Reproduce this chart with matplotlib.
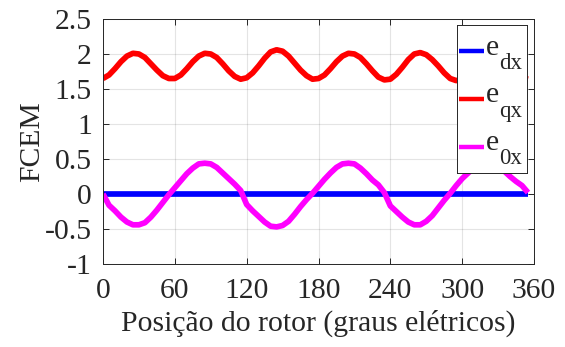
import numpy as np
import matplotlib
matplotlib.use("Agg")
from matplotlib import pyplot as plt

plt.rcParams['font.family'] = ['Liberation Serif', 'DejaVu Serif']

# rotor position (electrical degrees)
theta = list(range(0, 360, 5))

e_dx = [0.0] * len(theta)

e_qx = [1.65, 1.70, 1.79, 1.89, 1.97, 2.01, 2.00, 1.95, 1.86, 1.77, 1.69, 1.65,
        1.65, 1.70, 1.79, 1.89, 1.97, 2.01, 2.00, 1.95, 1.86, 1.76, 1.68, 1.64,
        1.66, 1.73, 1.83, 1.94, 2.03, 2.06, 2.04, 1.97, 1.87, 1.77, 1.69, 1.64,
        1.65, 1.70, 1.79, 1.89, 1.97, 2.01, 2.00, 1.95, 1.86, 1.76, 1.67, 1.63,
        1.64, 1.71, 1.81, 1.92, 2.00, 2.02, 1.99, 1.92, 1.83, 1.73, 1.65, 1.62,
        1.64, 1.71, 1.81, 1.91, 1.98, 2.01, 1.99, 1.92, 1.82, 1.72, 1.66, 1.64]

e_0x = [0.00, -0.16, -0.24, -0.33, -0.40, -0.44, -0.44, -0.41, -0.33, -0.23, -0.12, -0.01,
        0.09, 0.19, 0.29, 0.37, 0.43, 0.44, 0.43, 0.38, 0.30, 0.22, 0.14, 0.05,
        -0.15, -0.24, -0.32, -0.40, -0.46, -0.47, -0.45, -0.39, -0.29, -0.18, -0.08, 0.01,
        0.11, 0.21, 0.30, 0.38, 0.43, 0.44, 0.43, 0.37, 0.29, 0.20, 0.13, 0.02,
        -0.17, -0.25, -0.33, -0.40, -0.44, -0.44, -0.39, -0.31, -0.20, -0.09, 0.01, 0.12,
        0.22, 0.30, 0.38, 0.43, 0.45, 0.44, 0.40, 0.33, 0.25, 0.18, 0.12, 0.02]

series_names = ['e', 'e', 'e']
series_subs = ['dx', 'qx', '0x']
series_colors = ['#0000ff', '#ff0000', '#ff00ff']

xticks = [0, 60, 120, 180, 240, 300, 360]
yticks = [-1, -0.5, 0, 0.5, 1, 1.5, 2, 2.5]
ytick_labels = ['-1', '-0.5', '0', '0.5', '1', '1.5', '2', '2.5']

W, H = 565, 347
fs = 21.3
ink = '#262626'

fig = plt.figure(figsize=(W / 100, H / 100), dpi=100)
ax = fig.add_axes([103/W, 1 - 264/H, (534 - 103)/W, (264 - 19)/H])

for vals, c in zip([e_dx, e_qx, e_0x], series_colors):
    ax.plot(theta, vals, color=c, lw=4.1, solid_capstyle='butt')

ax.set_xlim(0, 360)
ax.set_ylim(-1, 2.5)
ax.set_xticks(xticks)
ax.set_yticks(yticks)
ax.set_yticklabels(ytick_labels)
ax.grid(True, color=ink, alpha=0.12, lw=0.8)
ax.tick_params(direction='in', top=True, right=True, labelsize=fs,
               colors=ink, length=4, width=0.7)
ax.tick_params(axis='x', pad=10)
ax.tick_params(axis='y', pad=8)
for s in ax.spines.values():
    s.set_color(ink)
    s.set_linewidth(0.7)

ax.set_xlabel('Posição do rotor (graus elétricos)', fontsize=fs, color=ink, labelpad=4)
ax.set_ylabel('FCEM', fontsize=fs, color=ink, labelpad=0)

# legend box drawn on its own small axes, in pixel units
lg = fig.add_axes([456.5/W, 1 - 173.3/H, (527 - 456.5)/W, (173.3 - 25.3)/H])
lg.set_xlim(456.5, 527)
lg.set_ylim(173.3, 25.3)
lg.set_xticks([])
lg.set_yticks([])
for s in lg.spines.values():
    s.set_color(ink)
    s.set_linewidth(0.7)

row_y = [51.3, 98.9, 146.7]
for name, sub, c, y in zip(series_names, series_subs, series_colors, row_y):
    lg.plot([458.5, 484], [y, y], color=c, lw=3.2, solid_capstyle='butt')
    lg.text(485.5, y + 3.3, name, fontsize=fs, color=ink, va='baseline', ha='left')
    lg.text(499, y + 17.8, sub, fontsize=16.5, color=ink, va='baseline', ha='left')

fig.savefig('out.png', dpi=100)
